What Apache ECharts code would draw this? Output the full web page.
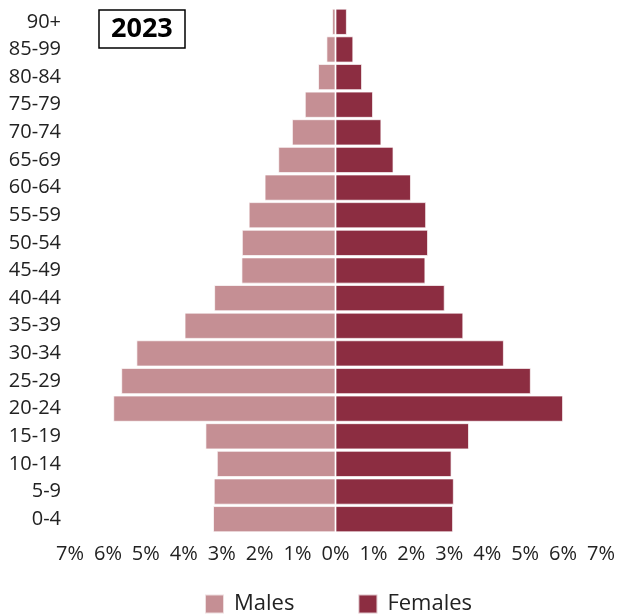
<!DOCTYPE html>
<html>
<head>
<meta charset="utf-8">
<script src="https://cdn.jsdelivr.net/npm/echarts@6/dist/echarts.min.js"></script>
<style>
  html, body { margin: 0; padding: 0; background: #fff; }
  #chart { width: 618px; height: 616px; }
</style>
</head>
<body>
<div id="chart"></div>
<script>
// age groups, bottom to top
const ageGroups = ['0-4', '5-9', '10-14', '15-19', '20-24', '25-29', '30-34', '35-39', '40-44',
  '45-49', '50-54', '55-59', '60-64', '65-69', '70-74', '75-79', '80-84', '85-99', '90+']

// share of population, %
const males = [3.23, 3.21, 3.13, 3.43, 5.86, 5.65, 5.25, 3.98, 3.2,
  2.48, 2.47, 2.29, 1.87, 1.51, 1.15, 0.81, 0.46, 0.24, 0.09]
const females = [3.1, 3.12, 3.06, 3.52, 6.0, 5.15, 4.44, 3.37, 2.88,
  2.37, 2.44, 2.39, 1.99, 1.53, 1.21, 0.99, 0.7, 0.47, 0.3]

const yearLabel = '2023'

const chart = echarts.init(document.getElementById('chart'))

const font = "'Open Sans', 'Noto Sans', sans-serif"

chart.setOption({
  animation: false,
  textStyle: { fontFamily: font },
  title: {
    text: yearLabel,
    left: 99,
    top: 10,
    padding: [6, 12, 5, 12],
    borderColor: '#000',
    borderWidth: 1.5,
    textStyle: { fontFamily: font, fontSize: 27, fontWeight: 'bold', color: '#000' }
  },
  grid: {
    left: 70,
    right: 17,
    top: 8,
    bottom: 83
  },
  legend: {
    top: 588,
    left: 199,
    itemWidth: 19,
    itemHeight: 19,
    itemGap: 63,
    icon: 'rect',
    textStyle: { fontFamily: font, fontSize: 22, color: '#222', padding: [0, 0, 0, 5] },
    data: ['Males', 'Females']
  },
  xAxis: {
    type: 'value',
    min: -7,
    max: 7,
    interval: 1,
    axisLine: { show: false },
    axisTick: { show: false },
    splitLine: { show: false },
    axisLabel: {
      color: '#222',
      fontSize: 20,
      margin: 11,
      formatter: (v) => Math.abs(v) + '%'
    }
  },
  yAxis: {
    type: 'category',
    data: ageGroups,
    axisLine: { show: false },
    axisTick: { show: false },
    axisLabel: { color: '#222', fontSize: 20, margin: 9 }
  },
  series: [
    {
      name: 'Males',
      type: 'bar',
      stack: 'pop',
      barCategoryGap: '5%',
      data: males.map(v => -v),
      itemStyle: { color: '#c58f94', borderColor: 'rgba(255,255,255,0.7)', borderWidth: 1 }
    },
    {
      name: 'Females',
      type: 'bar',
      stack: 'pop',
      barCategoryGap: '5%',
      data: females,
      itemStyle: { color: '#8c2d41', borderColor: 'rgba(255,255,255,0.7)', borderWidth: 1 }
    }
  ]
})
</script>
</body>
</html>
